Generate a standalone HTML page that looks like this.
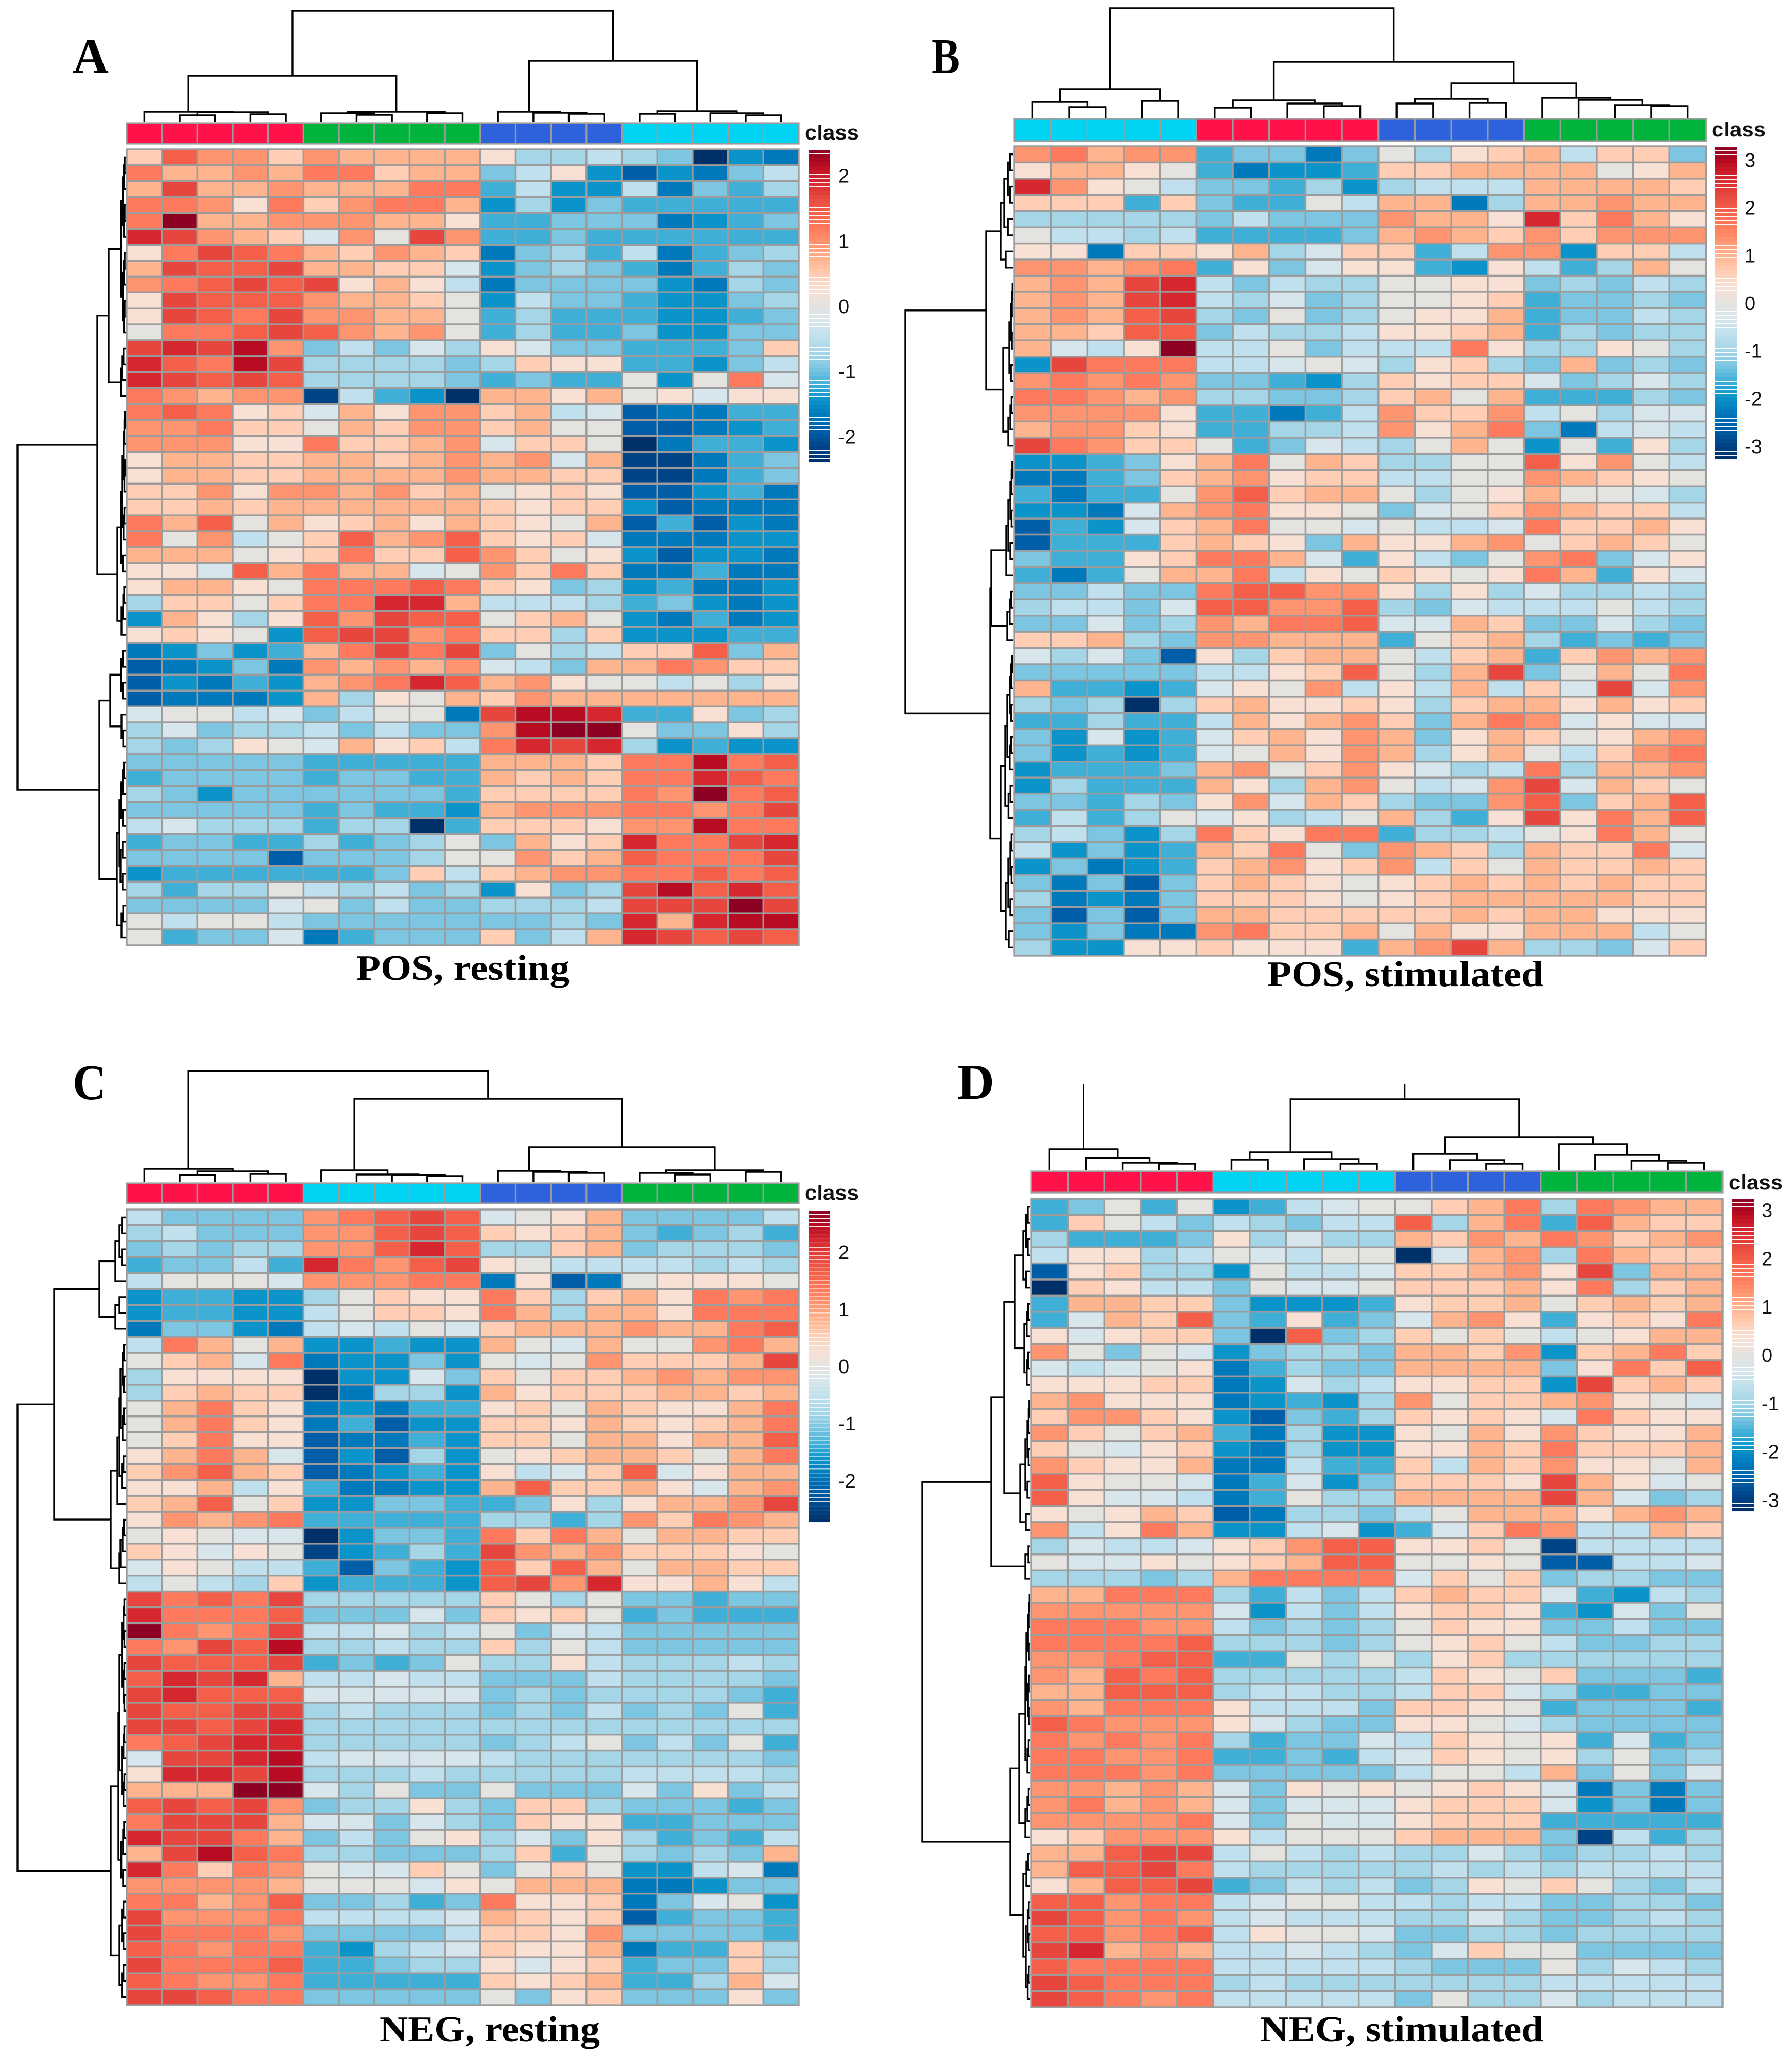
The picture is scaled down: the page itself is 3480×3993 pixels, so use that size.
<!DOCTYPE html>
<html lang="en">
<head>
<meta charset="utf-8">
<title>Metabolomics heatmaps</title>
<style>
html,body{margin:0;padding:0;background:#fff;}
body{width:3480px;height:3993px;overflow:hidden;}
svg{display:block;}
.panel-letter{font-family:"Liberation Serif",serif;font-weight:bold;font-size:98px;fill:#000;}
.panel-title{font-family:"Liberation Serif",serif;font-weight:bold;font-size:70px;fill:#000;}
.class-label{font-family:"Liberation Sans",sans-serif;font-weight:bold;font-size:40px;fill:#111;}
.tick-label{font-family:"Liberation Sans",sans-serif;font-size:38px;fill:#111;}
</style>
</head>
<body>
<svg id="figure" xmlns="http://www.w3.org/2000/svg" width="3480" height="3993" viewBox="0 0 3480 3993">
<rect x="0" y="0" width="3480" height="3993" fill="#fff"/>
<text class="panel-letter" x="141" y="142" textLength="70" lengthAdjust="spacingAndGlyphs">A</text>
<text class="panel-letter" x="1809" y="142" textLength="55" lengthAdjust="spacingAndGlyphs">B</text>
<text class="panel-letter" x="141" y="2135" textLength="65" lengthAdjust="spacingAndGlyphs">C</text>
<text class="panel-letter" x="1859" y="2134" textLength="72" lengthAdjust="spacingAndGlyphs">D</text>
<text class="panel-title" x="692" y="1903" textLength="414" lengthAdjust="spacingAndGlyphs">POS, resting</text>
<text class="panel-title" x="2461" y="1915" textLength="536" lengthAdjust="spacingAndGlyphs">POS, stimulated</text>
<text class="panel-title" x="737" y="3964" textLength="428" lengthAdjust="spacingAndGlyphs">NEG, resting</text>
<text class="panel-title" x="2447" y="3964" textLength="550" lengthAdjust="spacingAndGlyphs">NEG, stimulated</text>
</svg>
<script>
// Class order across the sample columns of each panel
const panelAClasses = ['r','r','r','r','r','g','g','g','g','g','b','b','b','b','c','c','c','c','c'];
const panelBClasses = ['c','c','c','c','c','r','r','r','r','r','b','b','b','b','g','g','g','g','g'];
const panelCClasses = ['r','r','r','r','r','c','c','c','c','c','b','b','b','b','g','g','g','g','g'];
const panelDClasses = ['r','r','r','r','r','c','c','c','c','c','b','b','b','b','g','g','g','g','g'];

// Colour-bar tick labels
const panelATicks = [2,1,0,-1,-2];
const panelBTicks = [3,2,1,0,-1,-2,-3];
const panelCTicks = [2,1,0,-1,-2];
const panelDTicks = [3,2,1,0,-1,-2,-3];

// Scale maxima of the four colour bars
const panelAMax = 2.4;
const panelBMax = 3.28;
const panelCMax = 2.73;
const panelDMax = 3.24;

// Cell values, in tenths of the panel's colour-scale maximum
const panelAValues = [
[2,6,4,4,2,4,3,3,3,3,1,-3,-3,-2,-3,-4,-10,-6,-7],
[5,3,3,4,3,5,5,2,3,3,-4,-2,1,-6,-8,-6,-7,-4,-2],
[3,7,3,3,4,3,3,3,5,5,-5,-2,-6,-6,-2,-7,-4,-5,-3],
[5,5,4,1,5,2,4,5,5,3,-6,-3,-6,-4,-5,-5,-5,-5,-5],
[5,10,3,3,4,4,4,3,3,1,-5,-5,-4,-4,-4,-7,-6,-5,-4],
[8,7,4,3,2,-1,4,0,7,4,-5,-5,-4,-5,-5,-5,-5,-5,-5],
[1,5,7,6,5,3,2,4,3,2,-7,-4,-3,-5,-2,-7,-5,-4,-3],
[3,7,6,6,7,3,3,2,2,-1,-6,-4,-3,-4,-5,-7,-5,-3,-4],
[4,5,6,7,6,7,1,3,1,-2,-7,-4,-4,-4,-4,-6,-7,-3,-4],
[1,7,6,6,6,4,3,3,2,0,-6,-2,-4,-4,-5,-6,-6,-4,-3],
[1,7,6,5,7,4,4,3,3,0,-5,-3,-5,-5,-5,-6,-6,-5,-4],
[0,5,5,6,7,6,4,3,4,0,-5,-3,-5,-5,-4,-6,-6,-4,-4],
[7,8,7,9,4,-4,-2,-4,-1,-3,1,-1,-4,-4,-5,-5,-5,-4,2],
[8,6,5,9,7,-3,-3,-3,-3,-4,-3,2,1,1,-5,-5,-6,-4,-2],
[8,7,6,7,6,-3,-3,-3,-3,-4,-5,-4,-5,-5,0,-6,0,5,-1],
[5,4,3,4,4,-9,-2,-5,-6,-10,3,3,1,3,0,1,-1,1,1],
[5,6,5,1,2,-1,3,1,4,4,2,3,-2,-1,-8,-7,-7,-5,-5],
[4,4,5,2,2,0,3,2,4,4,2,3,0,0,-8,-8,-7,-6,-5],
[4,4,4,1,1,5,2,2,3,4,-1,2,2,0,-10,-7,-5,-5,-6],
[1,3,3,2,2,3,3,2,3,4,3,4,-1,3,-9,-9,-7,-5,-4],
[1,3,3,2,2,3,3,3,3,4,3,3,2,2,-9,-9,-7,-5,-4],
[2,2,4,1,4,4,3,4,2,3,0,1,2,1,-8,-8,-6,-5,-7],
[2,2,3,2,3,3,3,3,3,3,2,1,2,2,-6,-8,-7,-7,-7],
[5,3,6,0,3,1,2,3,1,3,2,1,0,3,-8,-5,-8,-6,-7],
[5,0,4,-2,0,2,6,3,4,6,2,1,2,-1,-7,-7,-7,-6,-6],
[3,3,3,0,1,2,5,2,2,6,4,2,0,1,-6,-8,-6,-6,-7],
[1,1,-1,6,3,5,3,3,-1,0,4,2,5,2,-7,-7,-5,-7,-7],
[1,3,3,1,0,5,5,5,6,5,2,1,-4,-3,-6,-5,-7,-7,-6],
[-3,2,2,0,2,5,5,8,8,3,-2,-2,-2,-3,-5,-4,-6,-7,-6],
[-6,3,1,-3,1,6,4,7,6,6,0,2,3,0,-6,-7,-5,-7,-6],
[1,2,1,0,-6,6,7,7,4,5,2,2,-3,2,-6,-6,-6,-5,-5],
[-7,-6,-4,-6,-5,3,5,7,5,7,-4,0,-3,-2,2,2,6,-4,3],
[-8,-7,-6,-4,-7,4,3,4,3,4,-1,-2,-4,3,3,5,4,2,2],
[-8,-6,-7,-5,-6,3,4,5,8,6,3,4,1,0,0,-2,0,-3,1],
[-8,-7,-7,-7,-6,3,-3,1,0,3,2,4,3,3,3,3,3,3,3],
[-1,0,0,-2,-1,-4,-2,0,0,-7,7,9,9,8,-5,-5,1,-4,-3],
[-3,-1,-4,-3,-3,-2,-4,-2,-4,-4,4,9,10,10,0,-4,-4,1,-3],
[-3,-4,-3,1,0,-1,3,1,2,-2,5,8,7,8,-3,-6,-5,-6,-6],
[-4,-4,-4,-4,-4,-5,-5,-5,-5,-5,3,3,3,2,5,5,9,5,6],
[-5,-4,-4,-4,-4,-5,-4,-4,-5,-5,3,2,3,2,5,5,8,6,5],
[-3,-4,-6,-4,-4,-4,-4,-4,-4,-5,2,2,2,2,5,4,10,5,6],
[-4,-4,-4,-4,-4,-5,-4,-5,-5,-6,3,4,4,4,5,5,4,5,7],
[-2,-1,-3,-3,-3,-5,-3,-3,-10,-5,2,2,2,1,4,4,9,5,5],
[-5,-4,-4,-5,-5,-3,-5,-4,-3,0,-4,3,1,2,8,5,5,7,8],
[-4,-4,-4,-4,-8,-4,-4,-4,-3,0,0,4,2,3,6,5,5,5,7],
[-6,-5,-5,-5,-5,-5,-5,-4,2,-2,2,3,4,4,5,5,6,5,6],
[-3,-5,-3,-3,0,-2,-3,-2,-4,-3,-6,1,-4,-3,7,9,6,8,6],
[-4,-4,-4,-4,-1,0,-4,-2,-4,-4,-3,-3,-3,-2,7,7,7,10,7],
[0,-2,0,0,-2,-4,-4,-4,-4,-4,-4,-4,-3,-4,8,3,8,9,9],
[0,-5,-4,-4,-1,-7,-5,-4,-4,-4,2,-4,-2,3,8,7,6,7,6]
];
const panelBValues = [
[4,5,3,4,4,-5,-4,-4,-7,-4,0,-3,1,2,3,-2,2,2,-4],
[1,3,3,1,0,-5,-7,-6,-6,-5,2,2,3,3,3,3,0,1,3],
[8,4,1,0,-2,-4,-4,-5,-3,-6,-3,-2,-2,-2,3,3,3,3,2],
[2,2,2,-5,2,-4,-5,-5,0,-2,3,3,-7,-3,3,3,4,3,3],
[-3,-3,-3,-3,-3,-4,-2,-4,-4,-4,4,3,3,1,8,2,5,3,1],
[0,-2,-2,-3,-2,-5,-5,-5,-5,-4,3,4,3,2,4,2,4,4,4],
[1,1,-7,2,2,1,3,-3,-1,2,2,-5,-2,4,4,-6,2,2,-2],
[4,4,3,4,5,-5,1,-4,-1,1,1,-5,-6,1,-2,-5,-3,3,0],
[3,4,3,7,8,-2,-4,-2,-3,-3,0,0,1,1,-4,-3,-4,-2,-3],
[3,4,3,7,8,-2,-3,-1,-4,-3,0,0,1,2,-5,-4,-4,-3,-4],
[3,4,3,6,7,-3,-4,0,-4,-3,0,1,1,3,-5,-4,-4,-2,-3],
[3,3,2,6,6,-4,-2,-3,-3,-2,1,1,2,3,-5,-3,-4,-3,-3],
[3,-1,-2,1,10,-2,-2,0,-4,-2,-2,-2,5,1,-3,-3,1,0,-3],
[-6,7,5,5,5,-2,-2,-1,0,-1,-3,1,2,-3,-4,3,-4,-3,-4],
[4,5,4,5,4,-4,-4,-5,-6,-3,2,1,2,2,-1,-4,-3,-1,-3],
[5,5,4,3,4,-3,-3,-4,-4,-3,2,3,0,3,-5,-5,-5,-3,-4],
[4,4,4,4,1,-5,-5,-7,-5,-2,4,2,2,4,-2,0,-3,-1,-1],
[3,4,4,2,1,-5,-5,-3,-3,-2,4,1,3,5,-4,-7,-2,-1,-2],
[7,5,4,2,2,0,-5,-4,-1,-2,-3,0,3,0,-6,0,-5,1,-3],
[-6,-6,-5,-4,1,3,5,0,3,2,-3,-3,0,0,6,1,4,0,-2],
[-7,-7,-5,-4,2,3,4,1,2,2,-2,-2,0,0,4,3,2,1,0],
[-5,-7,-5,-5,0,4,6,2,3,3,0,-3,0,1,3,0,0,-1,-3],
[-6,-6,-7,-1,3,4,5,1,1,0,-4,-1,0,2,4,3,2,2,-2],
[-8,-5,-6,-1,2,3,5,0,0,-1,0,-2,-2,-1,5,2,2,3,1],
[-8,-5,-5,-5,2,3,2,1,-4,3,1,1,3,4,0,2,3,2,0],
[-4,-5,-5,1,2,5,5,3,-1,-5,1,-2,-4,0,4,5,-4,-1,1],
[-5,-7,-5,0,3,3,5,-2,1,0,2,1,0,1,5,3,-5,1,-1],
[-4,-4,-2,-4,-4,5,6,6,4,4,1,-3,1,-3,-1,-3,-3,-2,-3],
[-3,-2,-2,-4,-1,6,6,4,4,6,-3,-4,-1,-2,-2,-2,0,-2,-3],
[-4,-4,-1,-4,-3,4,3,5,5,6,-1,-1,3,2,-4,-4,-1,-3,-4],
[2,2,3,-3,-4,4,4,3,3,3,-5,0,2,3,-3,-5,-4,-5,-4],
[-1,-3,-1,-4,-8,1,-3,2,3,3,0,-2,2,3,-5,2,4,3,4],
[-4,-4,-4,-4,-4,-2,-2,1,2,6,0,-3,3,7,-4,0,3,0,5],
[3,-5,-5,-6,-5,-1,1,0,4,-2,1,-2,3,-2,2,-1,7,-1,4],
[-3,-4,-3,-10,-3,2,3,1,1,2,1,-3,2,3,3,1,3,1,2],
[-5,-5,-3,-5,-5,-2,3,1,3,4,2,-4,3,5,4,-1,1,-1,-1],
[-4,-6,-1,-6,-5,-1,2,3,1,4,3,-4,1,3,2,0,1,3,4],
[-4,-6,-5,-6,-5,-1,0,3,1,4,3,-3,1,3,0,-2,2,4,5],
[-6,-5,-5,-5,-4,3,4,0,2,4,1,-1,-3,-2,5,-3,3,3,4],
[-6,-3,-5,-5,-5,3,1,-3,3,4,0,-2,-1,4,7,-1,3,2,0],
[-4,-4,-5,-3,-4,1,4,-1,3,2,-3,-4,-4,4,6,-4,2,3,6],
[-5,-2,-5,-3,0,-1,1,-3,-2,0,3,-3,-5,1,7,1,5,3,6],
[-3,-2,-4,-6,-3,5,2,1,5,5,-5,-3,-3,-2,0,1,5,3,0],
[-2,-6,-4,-6,-5,3,2,5,0,-4,4,3,2,-3,3,2,2,5,-1],
[-6,-4,-7,-6,-5,2,3,4,1,2,4,-2,2,0,3,2,2,3,2],
[-4,-7,-4,-8,-4,2,3,2,1,0,1,2,3,2,3,2,3,2,2],
[-3,-7,-6,-7,-4,2,2,2,1,0,1,2,3,3,3,3,3,2,2],
[-4,-8,-4,-8,-4,3,3,2,2,2,2,2,3,2,3,3,1,1,1],
[-4,-6,-4,-7,-7,4,5,2,2,3,0,3,1,1,3,3,3,-2,0],
[-3,-6,-6,1,1,2,1,1,1,-5,3,4,7,3,-3,-3,-4,-1,2]
];
const panelCValues = [
[-2,-4,-4,-4,-4,4,5,6,7,6,-1,0,1,3,-4,-4,-4,-4,-2],
[-3,-2,-4,-4,-4,4,4,6,7,6,2,1,2,3,-4,-5,-4,-3,-5],
[-4,-3,-4,-3,-3,4,4,6,8,6,-3,-3,2,3,-4,-3,-3,-3,-4],
[-5,-4,-4,-2,-5,8,5,4,6,7,1,0,-2,-2,-2,-2,-3,-2,-3],
[-2,0,0,0,-1,4,4,4,5,5,-7,1,-8,-7,0,1,1,1,0],
[-6,-5,-5,-6,-6,-3,0,2,1,1,5,2,-3,2,3,1,5,4,5],
[-6,-5,-5,-6,-6,-2,0,2,2,1,5,3,-3,3,3,1,5,5,5],
[-7,-4,-4,-6,-7,-2,-1,-2,0,-1,2,3,3,3,4,3,3,5,6],
[-2,5,3,0,3,-6,-6,-5,-6,-6,3,0,-1,3,0,0,4,5,3],
[0,2,3,-1,5,-7,-6,-6,-4,-6,0,-1,0,4,2,2,2,3,7],
[-3,1,1,1,1,-10,-6,-6,-1,-4,2,0,2,2,3,4,3,4,4],
[-3,2,3,2,2,-10,-7,-3,-3,-6,3,1,2,2,2,3,3,2,3],
[0,3,5,2,1,-7,-6,-7,-5,-5,1,2,0,3,2,1,1,3,5],
[0,3,5,2,1,-7,-5,-8,-6,-6,2,2,1,3,2,1,2,3,5],
[0,2,5,1,1,-8,-7,-7,-5,-6,2,2,0,3,3,1,3,3,6],
[1,3,5,3,-1,-8,-6,-8,-3,-6,0,1,2,3,3,2,0,3,5],
[2,4,6,3,2,-8,-7,-6,-5,-6,1,-2,-1,2,6,-1,1,3,3],
[1,1,3,-2,1,-5,-7,-7,-6,-6,3,6,2,2,3,1,-1,3,4],
[2,3,6,0,2,-6,-6,-4,-4,-5,-5,-4,1,-3,1,3,3,4,7],
[1,4,3,4,5,-5,-5,-5,-5,-5,-3,-3,-5,-3,4,2,5,4,3],
[0,1,0,-1,-1,-10,-6,-4,-4,-5,5,2,5,3,0,3,3,2,2],
[2,1,-1,1,0,-9,-6,-5,-3,-5,7,4,3,4,2,2,2,1,0],
[-1,1,0,-2,-2,-5,-8,-4,-5,-6,6,2,6,3,0,3,3,2,2],
[-2,0,-2,-3,2,-6,-5,-5,-5,-6,6,7,4,8,1,1,3,1,-2],
[7,5,6,5,7,-3,-3,-3,-3,-3,2,0,-3,0,-4,-4,-5,-4,-4],
[8,5,5,5,6,-4,-4,-4,-1,-4,2,1,2,0,-5,-4,-5,-5,-5],
[10,5,4,5,7,-2,-2,-1,-3,-2,0,-4,-1,-2,-4,-4,-4,-4,-4],
[5,4,7,6,9,-3,-3,-2,-3,-3,2,-3,0,-2,-4,-4,-4,-4,-4],
[7,6,6,6,7,-5,-4,-5,-4,0,-3,-3,1,-2,-3,-3,-3,-2,-3],
[6,8,7,8,3,-2,-2,-1,-2,-2,-4,-4,-4,-2,-3,-3,-3,-3,-4],
[7,8,6,6,6,-1,-1,-1,-1,-1,-4,-3,-4,-3,-3,-3,-3,-4,-5],
[7,6,6,7,7,-3,-2,-3,-3,-3,-4,-3,-4,-2,-4,-3,-4,0,-5],
[7,7,6,7,8,-3,-3,-3,-3,-3,-3,-3,-3,-3,-3,-3,-3,-3,-3],
[5,6,7,8,8,-3,-3,-3,-3,-3,-4,-3,-2,0,-4,-2,-4,0,-5],
[-1,7,7,8,9,-2,-1,-1,-1,-1,-2,-3,-3,-3,-3,-3,-3,-3,-4],
[1,8,8,7,9,-3,-3,-3,-2,-3,-3,-3,-3,-3,-2,-2,-2,-2,-3],
[3,3,3,10,10,-1,-3,0,-4,-4,0,-4,-4,-4,-1,-4,1,-4,-2],
[6,7,6,7,4,-4,-3,-3,1,-3,-4,2,2,-3,-4,-4,-4,-5,-4],
[5,7,7,7,3,-1,-1,-4,-1,-3,-4,2,1,1,-5,-5,-4,-4,-4],
[8,7,7,5,3,-4,-2,-4,0,1,-3,-1,-4,1,-3,-5,-4,-5,-2],
[3,7,9,6,5,-3,-3,-4,-4,-4,-3,2,-5,0,-3,-4,-3,-4,3],
[8,5,2,5,4,0,-1,-1,2,0,-4,0,2,0,-6,-6,-2,-1,-7],
[4,4,4,4,3,0,0,0,-1,1,0,3,3,3,-7,-7,-6,-4,-4],
[5,5,3,4,6,-4,-4,-3,-5,-4,5,1,1,2,-7,-4,-1,0,-6],
[7,4,4,4,5,-2,-2,-2,-2,-1,3,2,1,2,-8,-5,-4,-4,-5],
[7,5,5,5,4,-4,-4,-4,-4,-2,2,2,1,4,-4,-4,-4,-4,-5],
[6,5,4,5,5,-5,-6,-3,-2,-1,2,1,1,3,-7,-5,-5,2,-3],
[7,5,5,5,6,-5,-5,-4,-3,-3,1,-1,1,2,-5,-4,-4,2,-3],
[6,5,4,4,5,-5,-5,-5,-5,-5,2,1,2,3,-5,-5,-3,3,-1],
[7,7,6,5,5,-4,-4,-4,-4,-4,0,-4,1,2,-4,-4,-4,1,-4]
];
const panelDValues = [
[-5,-4,0,-5,0,-6,-5,-2,-1,0,0,2,3,5,-3,5,4,3,3],
[-5,2,0,-2,-4,-2,-3,-4,-2,-2,6,-3,3,5,-5,6,3,2,2],
[-3,-5,-5,-5,-4,1,-3,-1,-3,-3,3,2,4,3,5,4,2,3,4],
[-2,1,1,-3,-2,0,-1,-2,0,0,-10,-1,3,4,-3,5,3,2,2],
[-8,1,2,-3,-3,-6,0,-2,-2,-1,2,2,3,4,1,7,-4,3,3],
[-10,2,1,-2,-2,-4,0,-1,-1,0,2,2,2,3,1,5,-3,2,3],
[-5,3,3,2,2,-4,-6,-6,-6,-5,1,2,2,3,0,2,3,2,3],
[-5,-1,3,2,6,-4,-5,1,-5,-4,-1,3,4,1,-5,1,2,1,5],
[1,-1,1,2,2,-4,-10,6,-4,-3,2,0,2,0,-2,0,1,3,3],
[4,0,-4,0,-1,-6,-4,-3,-3,-4,3,3,2,4,-6,2,3,5,2],
[-1,-2,-1,0,1,-7,-5,-3,-4,-4,3,3,3,3,-4,1,5,2,6],
[1,1,1,2,2,-7,-6,-1,-3,-2,1,1,2,2,-6,7,2,3,2],
[3,4,1,1,1,-7,-6,-5,-6,-3,4,0,2,2,3,4,1,0,-1],
[2,4,4,2,1,-6,-8,-4,-5,-3,2,1,2,1,-1,5,2,1,1],
[4,2,0,2,3,-5,-7,-3,-6,-6,1,0,3,1,4,2,1,1,3],
[2,0,-1,1,2,-6,-7,-3,-6,-6,1,1,3,2,5,2,2,2,3],
[4,2,1,1,3,-7,-7,-2,-5,-5,2,-2,3,2,4,1,1,0,3],
[6,1,0,0,-1,-7,-5,-1,-6,-4,2,2,2,1,7,3,1,-1,0],
[6,1,-1,-1,-2,-7,-5,0,-3,-3,3,3,3,3,7,3,-1,-4,-3],
[1,0,1,3,2,-8,-7,-3,-3,-4,-2,0,3,3,3,1,3,4,3],
[4,-2,1,5,3,-6,-6,-2,-1,-6,-5,-1,2,5,4,-2,-2,3,2],
[-3,-1,-2,-2,-1,1,2,4,6,6,1,1,2,0,-9,-2,-2,-2,-2],
[0,-1,-1,1,0,1,2,3,6,6,0,0,1,0,-8,-8,-2,-2,-1],
[-3,-3,-3,-4,-3,3,5,5,5,5,-1,2,0,2,-4,-3,-3,-4,-4],
[3,3,5,5,5,-3,-5,-2,-4,-2,2,3,2,2,-1,-5,-6,-2,-3],
[4,4,4,4,4,-1,-6,-2,-4,-2,1,2,2,1,-5,-6,-1,-4,0],
[5,5,5,4,4,-2,-4,-3,-4,-3,0,2,1,1,-4,-4,-2,-4,-4],
[5,5,5,5,6,-3,-3,-3,-4,-3,0,1,2,0,-2,-4,-4,-3,-3],
[4,4,5,6,6,-5,-5,0,-3,0,-3,1,2,-3,-3,-3,-3,-3,-3],
[4,3,6,5,6,-3,-3,-3,-3,-3,-2,2,1,0,2,-4,-4,-4,-5],
[3,3,6,6,6,-3,-2,-2,-3,-3,-2,2,2,-1,-3,-5,-5,-4,-4],
[4,3,5,5,5,1,-2,-2,-2,-4,2,2,1,0,-5,-4,-4,-4,-5],
[6,5,4,4,4,1,-1,-3,-4,-4,1,1,0,-1,-3,-4,-4,-4,-4],
[5,4,5,4,5,-3,-5,-4,-4,-1,-2,2,1,0,1,-5,-1,-5,-4],
[5,5,4,4,5,-5,-5,-4,-5,-2,-1,2,1,0,1,-3,0,-4,-3],
[5,5,5,4,5,-4,-4,-4,-4,-4,-2,0,0,-2,3,-4,0,-4,-1],
[4,4,3,4,3,-1,-4,1,0,1,0,1,2,1,-1,-7,-4,-7,-4],
[4,5,3,4,3,-1,-4,-1,-1,-1,1,2,2,2,-1,-6,-4,-7,-4],
[4,4,4,4,5,-1,-4,0,-1,-1,1,2,2,2,-5,-5,-5,-5,-5],
[1,2,4,4,4,1,-2,0,0,0,2,3,3,3,-4,-9,-2,-5,-3],
[3,3,6,7,7,-2,0,-2,-3,-2,-3,-3,-1,-3,-4,-3,-3,-2,-3],
[3,6,6,7,5,-2,-3,-3,-3,-3,-3,-2,-3,-2,-3,-2,-2,-2,-2],
[1,3,6,6,7,-5,-4,-2,-3,-2,-4,-3,1,0,2,0,-3,-4,-2],
[6,6,4,5,5,-2,-1,0,0,-2,-2,-3,-2,-2,-4,-4,-3,-3,-4],
[7,6,4,5,4,-2,-1,-2,-2,-2,-3,-3,-1,-3,-4,-4,-3,-2,-3],
[6,6,4,5,6,-2,1,0,0,-1,-4,-4,-3,-3,-4,-3,-3,-3,-3],
[7,8,3,4,3,-2,-2,-1,-2,-3,-4,-1,2,0,0,-4,-4,-4,-4],
[6,5,5,5,5,-2,-2,-2,-2,-2,-3,-4,-4,-4,0,-3,-1,-2,-3],
[7,6,5,5,5,-3,-2,-3,-3,-3,-3,-3,-3,-3,-2,-2,-2,-2,-2],
[7,6,5,4,5,-2,-2,-2,-2,-2,-4,0,-3,-3,-1,-3,-2,-2,-2]
];

// Dendrograms: [mergeHeight, leftChild, rightChild]; a child is a leaf index,
// a node, or a two-element [firstRow, lastRow] cluster of rows.
const panelAColumnTree = [215,[89,[19,0,[18,[12,1,2],[14,3,4]]],[19,[16,5,[13,6,7]],[16,8,9]]],[118,[19,10,[17,11,[15,12,13]]],[20,[15,14,15],[16,16,[12,17,18]]]]];
const panelBColumnTree = [214,[57,[32,0,[22,1,2]],[34,3,4]],[110,[35,[21,5,6],[29,7,[24,8,9]]],[68,[38,[29,10,11],[30,12,13]],[40,14,[36,15,[26,16,[24,17,18]]]]]]];
const panelCColumnTree = [215,[25,0,[20,[13,1,2],[15,3,4]]],[161,[22,5,[14,6,[13,7,[11,8,9]]]],[67,[21,10,[19,11,[17,12,13]]],[22,[17,14,[14,15,16]],[19,17,18]]]]];
const panelDColumnTreeLeft = [41,0,[24,1,[15,2,[13,3,4]]]];
const panelDColumnTreeRight = [138,[35,[21,5,6],[22,7,[13,8,9]]],[64,[32,10,[20,11,[13,12,13]]],[51,14,[30,15,[19,16,[15,17,18]]]]]];
const panelDStemHeight = 167;

const panelARowTree = [210,[55,[33,[9,[0,5],[6,11]],[9,[7,[12,13],14],15]],[16,[9,[7,[16,21],[22,24]],[25,26]],[8,[27,29],30]]],[51,[30,[9,[31,32],[33,34]],[8,35,[36,37]]],[17,[12,[9,[38,40],[41,42]],[10,[43,44],[45,46]]],[8,[47,48],49]]]];
const panelBRowTree = [210,[53,[25,[18,[0,3],[4,5]],[6,7]],[20,[8,[8,12],[13,14]],[10,[15,17],18]]],[45,[43,[14,[10,[19,23],[24,25]],26],[12,[27,29],30]],[25,[16,[12,[31,35],[36,38]],[39,41]],[15,[10,[42,45],[46,47]],[48,49]]]]];
const panelCRowTree = [210,[139,[51,[20,[0,3],4],[20,[5,6],7]],[29,[16,[12,[10,[8,11],[12,14]],[15,17]],18],[12,[10,[19,21],22],23]]],[29,[14,[12,[24,31],[32,37]],[38,42]],[12,[43,46],[47,49]]]];
const panelDRowTree = [210,[76,[51,[30,[14,[0,3],[4,5]],[12,[6,8],[9,11]]],[20,[10,[12,16],[17,18]],[9,19,20]]],[10,[4,21,22],23]],[39,[22,[10,[8,[24,28],[29,32]],[33,35]],[10,[36,38],39]],[14,[8,[40,41],42],[9,[43,46],[47,49]]]]];

// Style
const classColors = {r:'#ff1149', g:'#00b33c', b:'#2d62dc', c:'#00d4f5'};
const palette = ['#00306a','#004488','#005ea8','#0078bc','#0a94ca','#3fafd8','#7cc6e2','#a5d6e7','#bfe0ec','#d7e6ec','#e4e3df','#f8e0d4','#ffceb4','#ffb490','#ff9470','#ff7a5c','#f45f49','#e6463e','#d6262e','#b80c22','#8c0022'];
const gridColor = '#9c9c9c';

// Layout of each panel
const panels = [
 {id:'a', values:panelAValues, classes:panelAClasses, ticks:panelATicks, max:panelAMax, colTrees:[panelAColumnTree], stem:0, rowTree:panelARowTree,
  left:246,right:1551,top:290,bottom:1836,barTop:239,barBottom:279,colBase:236,rowBase:244,legL:1572,legR:1612,legT:291,legB:899,labelX:1628,classX:1563,classY:271},
 {id:'b', values:panelBValues, classes:panelBClasses, ticks:panelBTicks, max:panelBMax, colTrees:[panelBColumnTree], stem:0, rowTree:panelBRowTree,
  left:1970,right:3313,top:284,bottom:1856,barTop:231,barBottom:274,colBase:230,rowBase:1968,legL:3330,legR:3373,legT:285,legB:893,labelX:3388,classX:3324,classY:265},
 {id:'c', values:panelCValues, classes:panelCClasses, ticks:panelCTicks, max:panelCMax, colTrees:[panelCColumnTree], stem:0, rowTree:panelCRowTree,
  left:246,right:1551,top:2349,bottom:3894,barTop:2298,barBottom:2337,colBase:2295,rowBase:244,legL:1572,legR:1612,legT:2351,legB:2957,labelX:1628,classX:1563,classY:2330},
 {id:'d', values:panelDValues, classes:panelDClasses, ticks:panelDTicks, max:panelDMax, colTrees:[panelDColumnTreeLeft,panelDColumnTreeRight], stem:panelDStemHeight, rowTree:panelDRowTree,
  left:2003,right:3345,top:2328,bottom:3898,barTop:2275,barBottom:2316,colBase:2273,rowBase:2001,legL:3364,legR:3406,legT:2328,legB:2936,labelX:3421,classX:3357,classY:2310}
];

const NS = 'http://www.w3.org/2000/svg';
const figure = document.getElementById('figure');

function make(tag, attrs, parent){
  const el = document.createElementNS(NS, tag);
  for (const k in attrs) el.setAttribute(k, attrs[k]);
  parent.appendChild(el);
  return el;
}
function hexToRgb(h){
  return [parseInt(h.slice(1,3),16), parseInt(h.slice(3,5),16), parseInt(h.slice(5,7),16)];
}
function colorScale(level){
  const p = Math.max(0, Math.min(20, level + 10));
  const i = Math.min(19, Math.floor(p));
  const f = p - i;
  const a = hexToRgb(palette[i]);
  const b = hexToRgb(palette[i+1]);
  return 'rgb(' + a.map((v,n)=>Math.round(v + (b[n]-v)*f)).join(',') + ')';
}
function expandRange(a, b, depth){
  if (a === b) return a;
  const m = Math.floor((a + b) / 2);
  const next = depth * 0.6;
  return [depth, expandRange(a, m, next), expandRange(m + 1, b, next)];
}
function normalize(node, parentDepth){
  if (typeof node === 'number') return node;
  if (node.length === 2) return expandRange(node[0], node[1], parentDepth * 0.6);
  return [node[0], normalize(node[1], node[0]), normalize(node[2], node[0])];
}

function drawPanel(p){
  const g = make('g', {}, figure);
  
  

  const nCols = p.classes.length;
  const nRows = p.values.length;
  const colW = (p.right - p.left) / nCols;
  const rowH = (p.bottom - p.top) / nRows;
  const xScale = c => p.left + c * colW;
  const yScale = r => p.top + r * rowH;

  // Class annotation bar
  const bar = make('g', {}, g);
  
  
  p.classes.forEach((cls, c) => {
    const rect = make('rect', {x:xScale(c), y:p.barTop, width:colW, height:p.barBottom-p.barTop, fill:classColors[cls], stroke:gridColor, 'stroke-width':3.2}, bar);
    
    
  });

  // Heatmap cells
  const grid = make('g', {}, g);
  
  
  p.values.forEach((row, r) => {
    row.forEach((v, c) => {
      const rect = make('rect', {x:xScale(c), y:yScale(r), width:colW, height:rowH, fill:colorScale(v), stroke:gridColor, 'stroke-width':3.4}, grid);
      
      
    });
  });

  // Column dendrogram
  const colDend = make('g', {fill:'none', stroke:'#000', 'stroke-width':3.4}, g);
  
  
  function drawCol(node){
    if (typeof node === 'number') return {x:xScale(node) + colW/2, y:p.colBase};
    const a = drawCol(node[1]);
    const b = drawCol(node[2]);
    const y = p.colBase - node[0];
    const path = make('path', {d:'M'+a.x+' '+a.y+'V'+y+'H'+b.x+'V'+b.y}, colDend);
    
    
    return {x:(a.x+b.x)/2, y:y};
  }
  p.colTrees.forEach(tree => {
    const top = drawCol(tree);
    if (p.stem) {
      const stem = make('path', {d:'M'+top.x+' '+top.y+'V'+(p.colBase-p.stem), 'stroke-width':2.4}, colDend);
      
      
    }
  });

  // Row dendrogram
  const rowDend = make('g', {fill:'none', stroke:'#000', 'stroke-width':3.4}, g);
  
  
  function drawRow(node){
    if (typeof node === 'number') return {x:p.rowBase, y:yScale(node) + rowH/2};
    const a = drawRow(node[1]);
    const b = drawRow(node[2]);
    const x = p.rowBase - node[0];
    const path = make('path', {d:'M'+a.x+' '+a.y+'H'+x+'V'+b.y+'H'+b.x}, rowDend);
    
    
    return {x:x, y:(a.y+b.y)/2};
  }
  drawRow(normalize(p.rowTree, p.rowTree[0]));

  // Colour bar
  const legend = make('g', {}, g);
  
  
  const bands = 76;
  const legH = p.legB - p.legT;
  const bandH = legH / bands;
  for (let i = 0; i < bands; i++) {
    const level = 10 - 20 * (i + 0.5) / bands;
    const band = make('rect', {x:p.legL, y:p.legT + i*bandH, width:p.legR-p.legL, height:bandH*0.88, fill:colorScale(level)}, legend);
    
    
  }
  const legendY = v => p.legT + legH * (p.max - v) / (2 * p.max);
  p.ticks.forEach(t => {
    const label = make('text', {x:p.labelX, y:legendY(t) + 13, class:'tick-label'}, legend);
    
    
    label.textContent = String(t);
  });

  const classLabel = make('text', {x:p.classX, y:p.classY, class:'class-label', textLength:105, lengthAdjust:'spacingAndGlyphs'}, g);
  
  
  classLabel.textContent = 'class';
}

panels.forEach(drawPanel);
</script>
</body>
</html>
